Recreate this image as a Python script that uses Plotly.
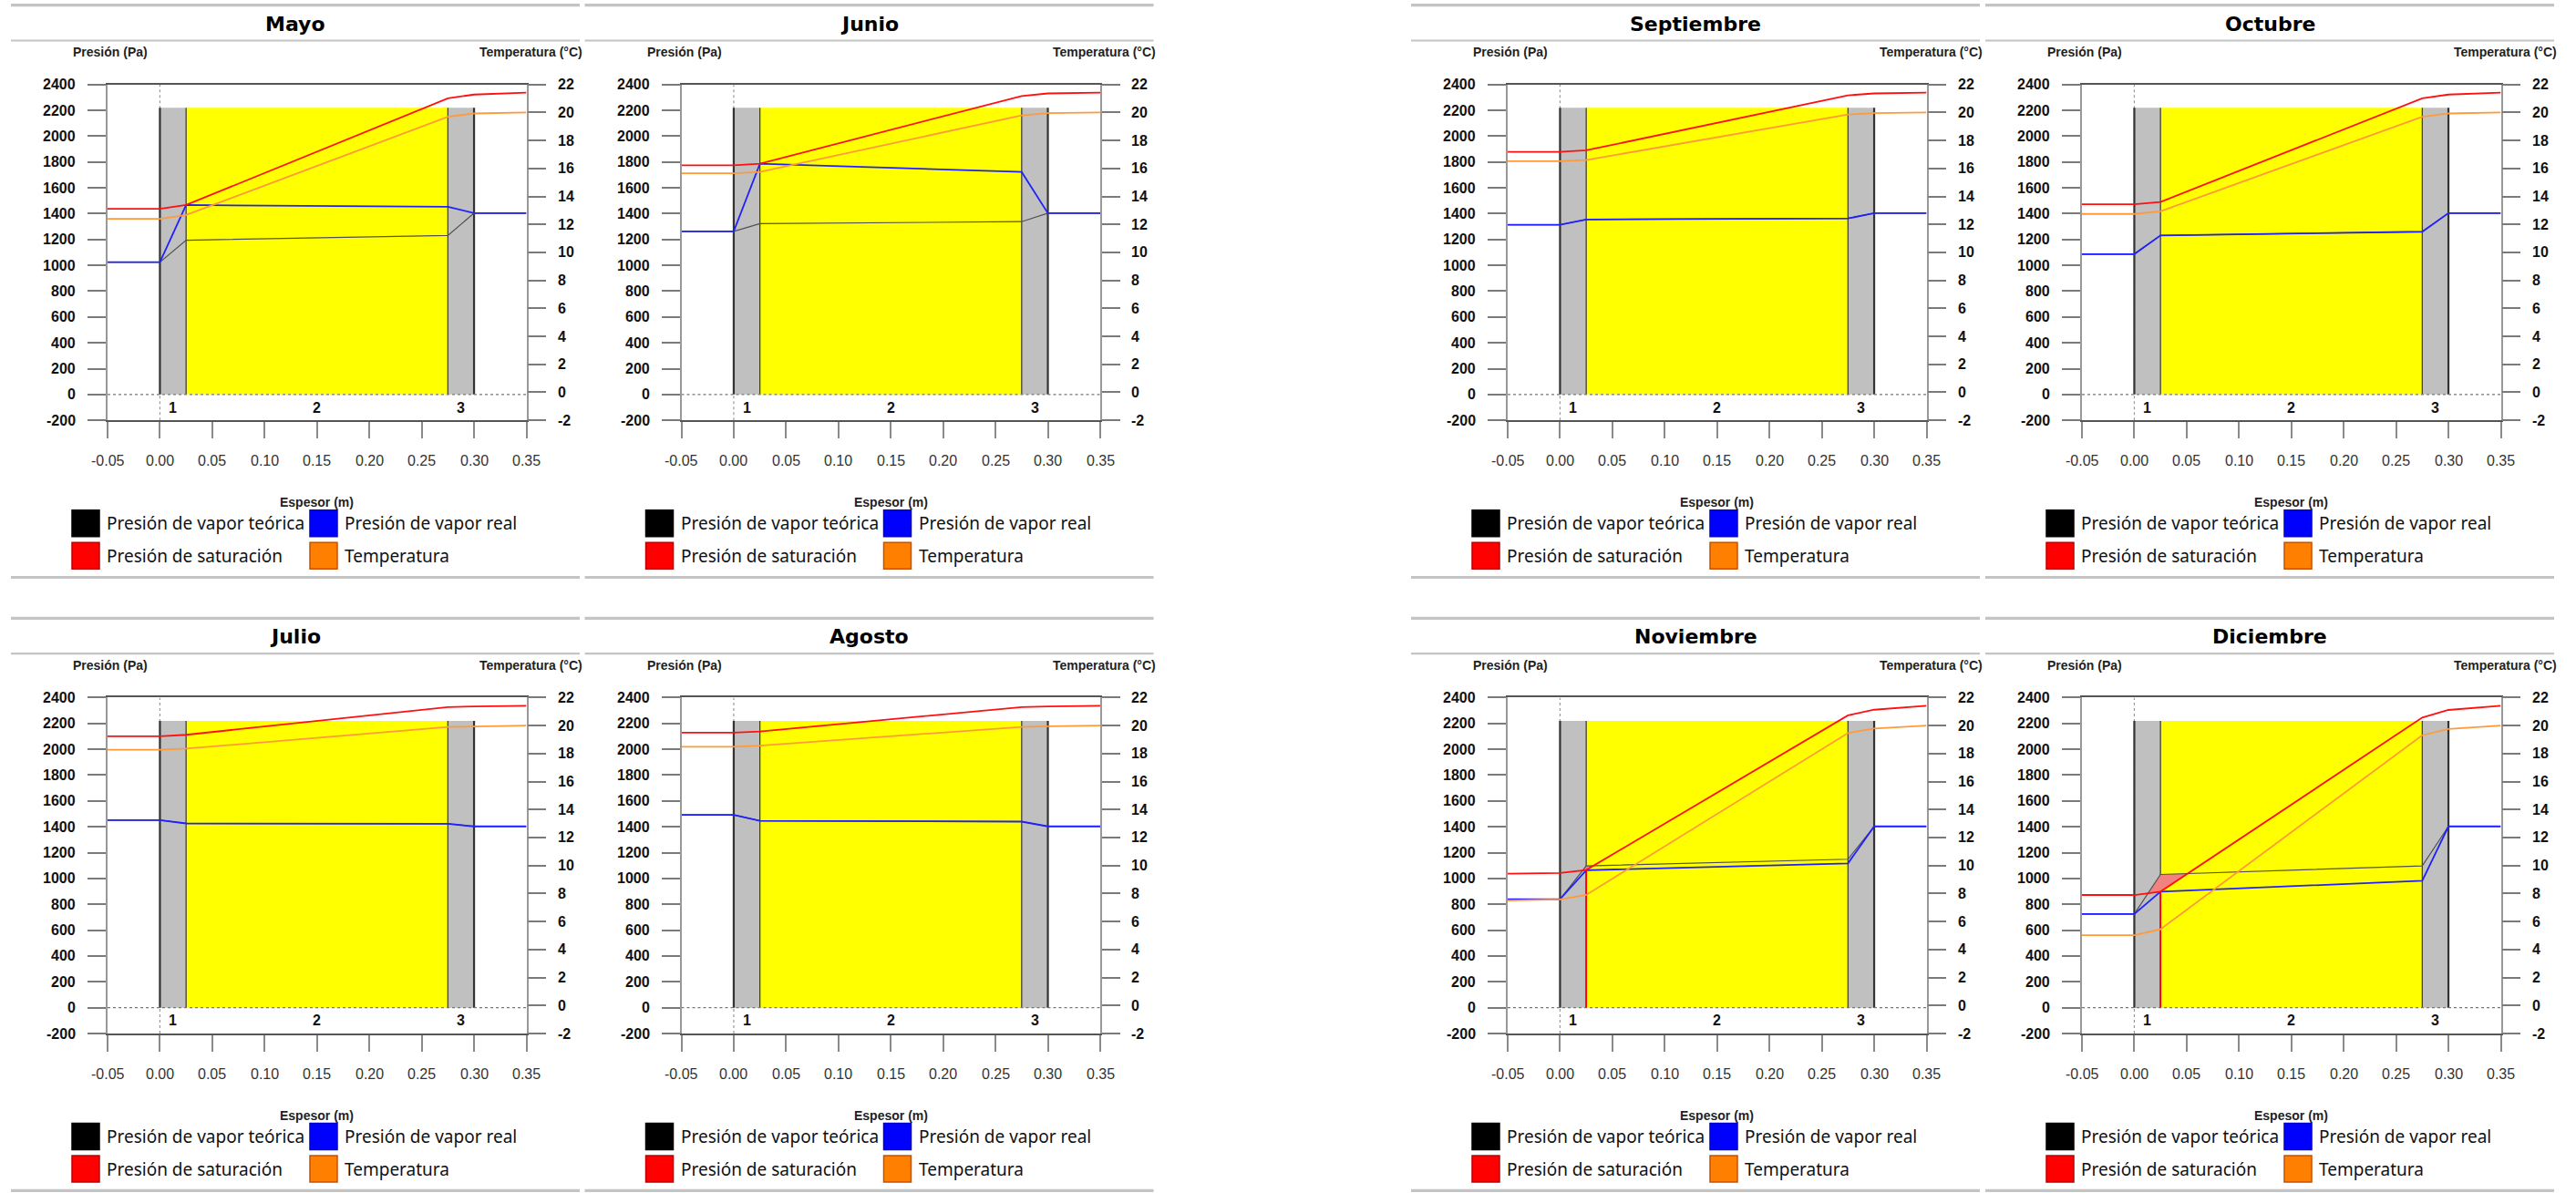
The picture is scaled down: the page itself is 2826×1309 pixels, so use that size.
import plotly.graph_objects as go

W, H = 2826, 1309

meses = ["Mayo", "Junio", "Septiembre", "Octubre",
         "Julio", "Agosto", "Noviembre", "Diciembre"]

# Section abscissas (m): exterior air, layer interfaces, interior air
espesor = [-0.05, 0.0, 0.025, 0.275, 0.30, 0.35]
interfaces = [0.0, 0.025, 0.275, 0.30]
capas = ["1", "2", "3"]
relleno_capas = ["#c0c0c0", "#ffff00", "#c0c0c0"]

# Temperature (°C) at each abscissa, one row per month
temperatura = [
    [12.40, 12.40, 12.67, 19.69, 19.93, 20.0],
    [15.65, 15.65, 15.75, 19.79, 19.95, 20.0],
    [16.52, 16.52, 16.60, 19.85, 19.95, 20.0],
    [12.75, 12.75, 12.94, 19.69, 19.93, 20.0],
    [18.27, 18.27, 18.35, 19.90, 19.93, 20.0],
    [18.49, 18.49, 18.57, 19.90, 19.95, 20.0],
    [7.50, 7.58, 7.90, 19.47, 19.79, 20.0],
    [5.02, 5.02, 5.45, 19.31, 19.76, 20.0],
]
# Saturation pressure (Pa)
p_saturacion = [
    [1438, 1438, 1467, 2293, 2322, 2337],
    [1775, 1775, 1787, 2311, 2331, 2337],
    [1879, 1879, 1890, 2316, 2331, 2337],
    [1473, 1473, 1490, 2293, 2322, 2337],
    [2100, 2100, 2112, 2326, 2332, 2337],
    [2129, 2129, 2138, 2326, 2332, 2337],
    [1037, 1042, 1066, 2262, 2306, 2337],
    [872, 872, 898, 2245, 2304, 2337],
]
# Real vapour pressure (Pa)
p_real = [
    [1024, 1024, 1467, 1453, 1404, 1404],
    [1263, 1263, 1787, 1723, 1404, 1404],
    [1314, 1314, 1355, 1363, 1404, 1404],
    [1087, 1087, 1231, 1260, 1404, 1404],
    [1452, 1452, 1426, 1423, 1403, 1403],
    [1492, 1492, 1446, 1440, 1403, 1403],
    [840, 840, 1064, 1117, 1403, 1403],
    [725, 725, 898, 982, 1403, 1403],
]
# Theoretical vapour pressure (Pa)
p_teorica = [
    [1024, 1024, 1194, 1231, 1404, 1404],
    [1263, 1263, 1323, 1338, 1404, 1404],
    [1314, 1314, 1355, 1363, 1404, 1404],
    [1087, 1087, 1231, 1260, 1404, 1404],
    [1452, 1452, 1426, 1423, 1403, 1403],
    [1492, 1492, 1446, 1440, 1403, 1403],
    [840, 840, 1097, 1149, 1403, 1403],
    [725, 725, 1031, 1097, 1403, 1403],
]

x_ticks = [-0.05, 0.0, 0.05, 0.10, 0.15, 0.20, 0.25, 0.30, 0.35]
p_ticks = list(range(-200, 2401, 200))
t_ticks = list(range(-2, 23, 2))
ALTO_CAPAS = 2220

leyenda = [("Presión de vapor teórica", "#000000", "#000000"),
           ("Presión de vapor real", "#0000ff", "#0000cc"),
           ("Presión de saturación", "#ff0000", "#c00000"),
           ("Temperatura", "#ff8000", "#c85000")]

# Panel geometry (pixels)
COL_L = [118, 747.5, 1654, 2284]
ANCHO = 459.5
ROW_TOP = [92.7, 765.4]
ROW_BOT = [461.2, 1134.0]

FUENTE_NUM = dict(family="Liberation Sans", size=16, color="#111",
                  weight="bold")


def px(x):
    return x / W


def py(y):
    return 1 - y / H


def zonas_condensacion(x, teo, sat):
    """Polygons where the theoretical vapour pressure exceeds saturation."""
    zonas, sup, inf = [], [], []
    for i in range(len(x) - 1):
        d0, d1 = teo[i] - sat[i], teo[i + 1] - sat[i + 1]
        if i == 0 and d0 > 0:
            sup, inf = [(x[0], teo[0])], [(x[0], sat[0])]
        if (d0 > 0) != (d1 > 0):
            t = d0 / (d0 - d1)
            xc = x[i] + t * (x[i + 1] - x[i])
            yc = teo[i] + t * (teo[i + 1] - teo[i])
            if d1 > 0:
                sup, inf = [(xc, yc)], [(xc, yc)]
            else:
                sup.append((xc, yc))
                zonas.append(sup + inf[::-1])
                sup, inf = [], []
                continue
        if d1 > 0:
            sup.append((x[i + 1], teo[i + 1]))
            inf.append((x[i + 1], sat[i + 1]))
    if sup:
        zonas.append(sup + inf[::-1])
    return zonas


fig = go.Figure()
layout = dict(width=W, height=H, margin=dict(l=0, r=0, t=0, b=0, pad=0),
              paper_bgcolor="white", plot_bgcolor="white", showlegend=False,
              font=dict(family="Liberation Sans, Arial", color="#111"))
shapes, annotations = [], []

for k, mes in enumerate(meses):
    fila, col = divmod(k, 4)
    L = COL_L[col]
    R = L + ANCHO
    Y0, Y1 = ROW_TOP[fila], ROW_BOT[fila]
    xn = "x" if k == 0 else f"x{k + 1}"
    yl = "y" if k == 0 else f"y{2 * k + 1}"
    yr = f"y{2 * k + 2}"

    layout["xaxis" if k == 0 else f"xaxis{k + 1}"] = dict(
        domain=[px(L), px(R)], anchor=yl, range=[-0.05, 0.35],
        automargin=False, tickvals=x_ticks, showticklabels=False,
        ticks="outside", ticklen=18, tickcolor="#8a8a8a", tickwidth=1.5,
        showgrid=False, zeroline=False,
        showline=True, mirror=True, linecolor="#555", linewidth=1.5)
    layout["yaxis" if k == 0 else f"yaxis{2 * k + 1}"] = dict(
        domain=[py(Y1), py(Y0)], anchor=xn, range=[-200, 2400],
        automargin=False, tickvals=p_ticks, showticklabels=False,
        ticks="outside", ticklen=20, tickcolor="#7a7a7a",
        tickwidth=1.5, showgrid=False, zeroline=False,
        showline=True, linecolor="#999", linewidth=1.5)
    layout[f"yaxis{2 * k + 2}"] = dict(
        overlaying=yl, anchor=xn, side="right", range=[-2, 22],
        automargin=False, tickvals=t_ticks, showticklabels=False,
        ticks="outside", ticklen=20, tickcolor="#7a7a7a",
        tickwidth=1.5, showgrid=False, zeroline=False,
        showline=True, linecolor="#999", linewidth=1.5)

    # tick labels
    for v in p_ticks:
        annotations.append(dict(xref="paper", yref=yl, x=px(L - 33), y=v,
                                text=str(v), showarrow=False, xanchor="right",
                                yanchor="middle", font=FUENTE_NUM))
    for v in t_ticks:
        annotations.append(dict(xref="paper", yref=yr, x=px(R + 32), y=v,
                                text=str(v), showarrow=False, xanchor="left",
                                yanchor="middle", font=FUENTE_NUM))
    for v in x_ticks:
        annotations.append(dict(xref=xn, yref="paper", x=v, y=py(Y1 + 44.5),
                                text=f"{v:.2f}", showarrow=False,
                                xanchor="center", yanchor="middle",
                                font=dict(family="Liberation Sans", size=16,
                                          color="#333")))

    # wall layers
    for i, color in enumerate(relleno_capas):
        shapes.append(dict(type="rect", xref=xn, yref=yl, layer="below",
                           x0=interfaces[i], x1=interfaces[i + 1],
                           y0=0, y1=ALTO_CAPAS, fillcolor=color,
                           line=dict(width=0)))
    shapes.append(dict(type="line", xref=xn, yref=yl, layer="below",
                       x0=0, x1=0, y0=-200, y1=2400,
                       line=dict(color="#9a9a9a", width=1.2, dash="dot")))
    for i, xi in enumerate(interfaces):
        ancho = 2.2 if i in (0, len(interfaces) - 1) else 1.2
        shapes.append(dict(type="line", xref=xn, yref=yl, layer="below",
                           x0=xi, x1=xi, y0=0, y1=ALTO_CAPAS,
                           line=dict(color="#333", width=ancho)))
    shapes.append(dict(type="line", xref=xn, yref=yl, layer="below",
                       x0=-0.05, x1=0.35, y0=0, y1=0,
                       line=dict(color="#777", width=1.2, dash="dot")))
    for i, nombre in enumerate(capas):
        annotations.append(dict(
            xref=xn, yref=yl, x=(interfaces[i] + interfaces[i + 1]) / 2,
            y=-100, text=nombre, showarrow=False, font=FUENTE_NUM))

    teo, sat = p_teorica[k], p_saturacion[k]
    for zona in zonas_condensacion(espesor, teo, sat):
        fig.add_trace(go.Scatter(
            x=[p[0] for p in zona], y=[p[1] for p in zona], xaxis=xn,
            yaxis=yl, mode="lines", fill="toself",
            fillcolor="rgb(242,130,130)", line=dict(width=0),
            hoverinfo="skip"))
    # condensation plane
    for i, xi in enumerate(espesor):
        if xi in interfaces[1:-1] and teo[i] > sat[i]:
            fig.add_trace(go.Scatter(
                x=[xi, xi], y=[0, sat[i]], xaxis=xn, yaxis=yl, mode="lines",
                line=dict(color="#ff0000", width=1.8), hoverinfo="skip"))

    fig.add_trace(go.Scatter(x=espesor, y=teo, xaxis=xn, yaxis=yl,
                             mode="lines", line=dict(color="#505050", width=1.2),
                             hoverinfo="skip"))
    fig.add_trace(go.Scatter(x=espesor, y=p_real[k], xaxis=xn, yaxis=yl,
                             mode="lines", line=dict(color="#2020ff", width=1.8),
                             hoverinfo="skip"))
    fig.add_trace(go.Scatter(x=espesor, y=sat, xaxis=xn, yaxis=yl,
                             mode="lines", line=dict(color="#ff1010", width=1.8),
                             hoverinfo="skip"))
    fig.add_trace(go.Scatter(x=espesor, y=temperatura[k], xaxis=xn, yaxis=yr,
                             mode="lines", line=dict(color="#ff9a3a", width=1.8),
                             hoverinfo="skip"))

    # panel frame lines and titles
    PL, PR = L - 106, L + 518
    for yline, w in ((Y0 - 87, 3.2), (Y0 - 48.2, 2.2), (Y1 + 172.3, 3.2)):
        shapes.append(dict(type="line", xref="paper", yref="paper",
                           x0=px(PL), x1=px(PR), y0=py(yline), y1=py(yline),
                           line=dict(color="#c4c4c4", width=w)))
    annotations.append(dict(xref="paper", yref="paper", x=px((PL + PR) / 2),
                            y=py(Y0 - 66.5), text=mes, showarrow=False,
                            xanchor="center", yanchor="middle",
                            font=dict(family="DejaVu Sans", size=22,
                                      color="#000", weight="bold")))
    ejes = [("Presión (Pa)", L - 40, "left", Y0 - 35.5),
            ("Temperatura (°C)", R + 63, "right", Y0 - 35.5),
            ("Espesor (m)", (L + R) / 2, "center", Y1 + 90)]
    for texto, xa, anc, ya in ejes:
        annotations.append(dict(xref="paper", yref="paper", x=px(xa),
                                y=py(ya), text=texto, showarrow=False,
                                xanchor=anc, yanchor="middle",
                                font=dict(family="Liberation Sans", size=14,
                                          color="#222", weight="bold")))

    # legend
    for j, (texto, color, borde) in enumerate(leyenda):
        fl, cl = divmod(j, 2)
        bx = L - 39 if cl == 0 else L + 222
        cy = Y1 + (113 if fl == 0 else 148.5)
        shapes.append(dict(type="rect", xref="paper", yref="paper",
                           x0=px(bx), x1=px(bx + 30), y0=py(cy + 14.5),
                           y1=py(cy - 14.5), fillcolor=color,
                           line=dict(color=borde, width=1.5)))
        annotations.append(dict(xref="paper", yref="paper", x=px(bx + 36),
                                y=py(cy), text=texto, showarrow=False,
                                xanchor="left", yanchor="middle",
                                font=dict(family="Noto Sans", size=19,
                                          color="#111")))

layout["shapes"] = shapes
layout["annotations"] = annotations
fig.update_layout(**layout)
fig.write_html("out.html")
